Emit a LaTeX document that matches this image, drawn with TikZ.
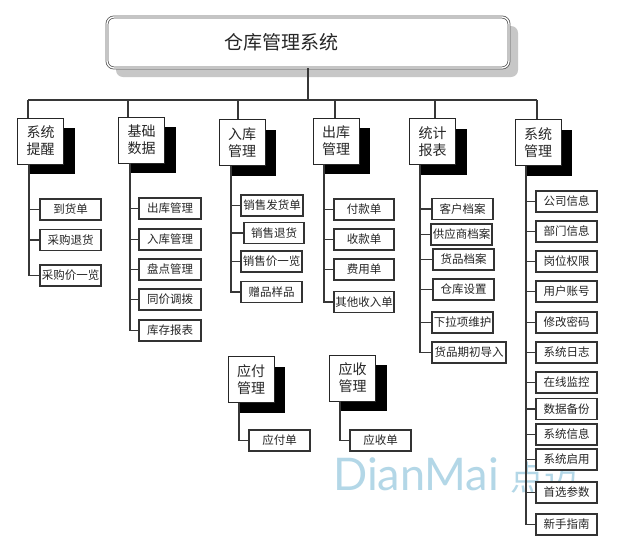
\documentclass[tikz,border=0pt]{standalone}
\usepackage{fontspec}
\setmainfont{Noto Sans CJK SC}
\newfontfamily\wmfont{Lato}
\usetikzlibrary{shadows}
\definecolor{wmblue}{RGB}{160,205,225}
\definecolor{linec}{RGB}{55,55,55}
\begin{document}
\begin{tikzpicture}[x=1pt,y=-1pt,
  conn/.style={draw=linec, line width=1.1pt},
  titlebox/.style={draw=black!65, double=white, double distance=1.3pt, line width=0.8pt,
    rounded corners=7pt, fill=white, minimum width=402pt, minimum height=51pt,
    general shadow={fill=black!22, shadow xshift=9pt, shadow yshift=-9pt}},
  catbox/.style={draw=black!85, fill=white, line width=0.9pt, minimum width=46pt,
    minimum height=46pt, inner sep=0pt, align=center, text=black!85,
    font=\fontsize{14}{17}\selectfont,
    general shadow={fill=black, shadow xshift=11pt, shadow yshift=-10pt}},
  item/.style={draw=black!80, fill=white, line width=1.2pt, minimum width=61pt,
    minimum height=21pt, inner sep=0pt, text=black!85, font=\fontsize{11.5}{12}\selectfont}
]
\fill[white] (0,0) rectangle (626,552);
\useasboundingbox (0,0) rectangle (626,552);

% watermark (behind the boxes)
\node[anchor=base west, inner sep=0pt, text=wmblue, opacity=0.8] (wm) at (333,490)
  {\wmfont\fontsize{45}{45}\selectfont DianMai\ \fontsize{34}{34}\selectfont\rmfamily 点迈};

% title
\node[titlebox] (title) at (308,42.5) {};
\node[font=\fontsize{19}{20}\selectfont, text=black!85, inner sep=0pt] (titletext) at (281.5,42) {仓库管理系统};

% categories
\node[catbox] (n1) at (40.5,141)  {系统\\提醒};
\node[catbox] (n2) at (141.5,140) {基础\\数据};
\node[catbox] (n3) at (242,142.5) {入库\\管理};
\node[catbox] (n4) at (336,141)   {出库\\管理};
\node[catbox] (n5) at (432.5,141.5) {统计\\报表};
\node[catbox] (n6) at (538,142.5) {系统\\管理};
\node[catbox] (n7) at (251,379.5) {应付\\管理};
\node[catbox] (n8) at (352.5,378) {应收\\管理};

% top bar
\coordinate (top) at (308,100);
\coordinate (d1) at (28,100);
\coordinate (d2) at (128,100);
\coordinate (d3) at (238,100);
\coordinate (d4) at (335,100);
\coordinate (d5) at (435,100);
\coordinate (d6) at (537,100);
\draw[conn] (title.south) -- (top);
\draw[conn] (d1) -- (d6);
\foreach \i in {1,...,6} { \draw[conn] (d\i) -- (d\i |- n\i.north); }

% children of n1
\node[item] (a1) at (70.5,209.5) {到货单};
\node[item] (a2) at (70.5,240)   {采购退货};
\node[item] (a3) at (70.5,275.5) {采购价一览};
% children of n2
\node[item,minimum width=62pt] (b1) at (170,208.5) {出库管理};
\node[item,minimum width=62pt] (b2) at (170,239.5) {入库管理};
\node[item,minimum width=62pt] (b3) at (170,269.5) {盘点管理};
\node[item,minimum width=62pt] (b4) at (170,299.5) {同价调拨};
\node[item,minimum width=62pt] (b5) at (170,330.5) {库存报表};
% children of n3
\node[item,minimum width=62pt] (c1) at (272,205.5) {销售发货单};
\node[item,minimum width=60pt] (c2) at (274,233)   {销售退货};
\node[item] (c3) at (271.5,261.5) {销售价一览};
\node[item] (c4) at (271.5,292)   {赠品样品};
% children of n4
\node[item,minimum width=60pt] (e1) at (364,209.5) {付款单};
\node[item,minimum width=60pt] (e2) at (364,239.5) {收款单};
\node[item,minimum width=60pt] (e3) at (364,269.5) {费用单};
\node[item,minimum width=60pt] (e4) at (364,302)   {其他收入单};
% children of n5
\node[item] (f1) at (462.5,209)   {客户档案};
\node[item] (f2) at (461.5,234.5) {供应商档案};
\node[item] (f3) at (463.5,259.5) {货品档案};
\node[item] (f4) at (463.5,289.5) {仓库设置};
\node[item] (f5) at (462.5,322.5) {下拉项维护};
\node[item,minimum width=74pt] (f6) at (469,352.5) {货品期初导入};
% children of n6
\node[item] (g1)  at (566.5,201.5) {公司信息};
\node[item] (g2)  at (566.5,231.5) {部门信息};
\node[item] (g3)  at (566.5,261.5) {岗位权限};
\node[item] (g4)  at (566.5,291.5) {用户账号};
\node[item] (g5)  at (566.5,322.5) {修改密码};
\node[item] (g6)  at (566.5,352.5) {系统日志};
\node[item] (g7)  at (566.5,382.5) {在线监控};
\node[item] (g8)  at (566.5,409)   {数据备份};
\node[item] (g9)  at (566.5,434.5) {系统信息};
\node[item] (g10) at (566.5,459.5) {系统启用};
\node[item] (g11) at (566.5,492.5) {首选参数};
\node[item] (g12) at (566.5,524.5) {新手指南};
% children of n7, n8
\node[item] (h1) at (279.5,440.5) {应付单};
\node[item] (i1) at (380.5,440.5) {应收单};

% trunks
\coordinate (t1) at (29,0);
\coordinate (t2) at (130,0);
\coordinate (t3) at (231,0);
\coordinate (t4) at (324,0);
\coordinate (t5) at (420,0);
\coordinate (t6) at (526,0);
\coordinate (t7) at (239,0);
\coordinate (t8) at (340,0);

\draw[conn] (n1.south -| t1) -- (a3.west -| t1) -- (a3.west);
\foreach \k in {a1,a2} { \draw[conn] (\k.west -| t1) -- (\k.west); }
\draw[conn] (n2.south -| t2) -- (b5.west -| t2) -- (b5.west);
\foreach \k in {b1,b2,b3,b4} { \draw[conn] (\k.west -| t2) -- (\k.west); }
\draw[conn] (n3.south -| t3) -- (c4.west -| t3) -- (c4.west);
\foreach \k in {c1,c2,c3} { \draw[conn] (\k.west -| t3) -- (\k.west); }
\draw[conn] (n4.south -| t4) -- (e4.west -| t4) -- (e4.west);
\foreach \k in {e1,e2,e3} { \draw[conn] (\k.west -| t4) -- (\k.west); }
\draw[conn] (n5.south -| t5) -- (f6.west -| t5) -- (f6.west);
\foreach \k in {f1,f2,f3,f4,f5} { \draw[conn] (\k.west -| t5) -- (\k.west); }
\draw[conn] (n6.south -| t6) -- (g12.west -| t6) -- (g12.west);
\foreach \k in {g1,g2,g3,g4,g5,g6,g7,g8,g9,g10,g11} { \draw[conn] (\k.west -| t6) -- (\k.west); }
\draw[conn] (n7.south -| t7) -- (h1.west -| t7) -- (h1.west);
\draw[conn] (n8.south -| t8) -- (i1.west -| t8) -- (i1.west);
\end{tikzpicture}
\end{document}
